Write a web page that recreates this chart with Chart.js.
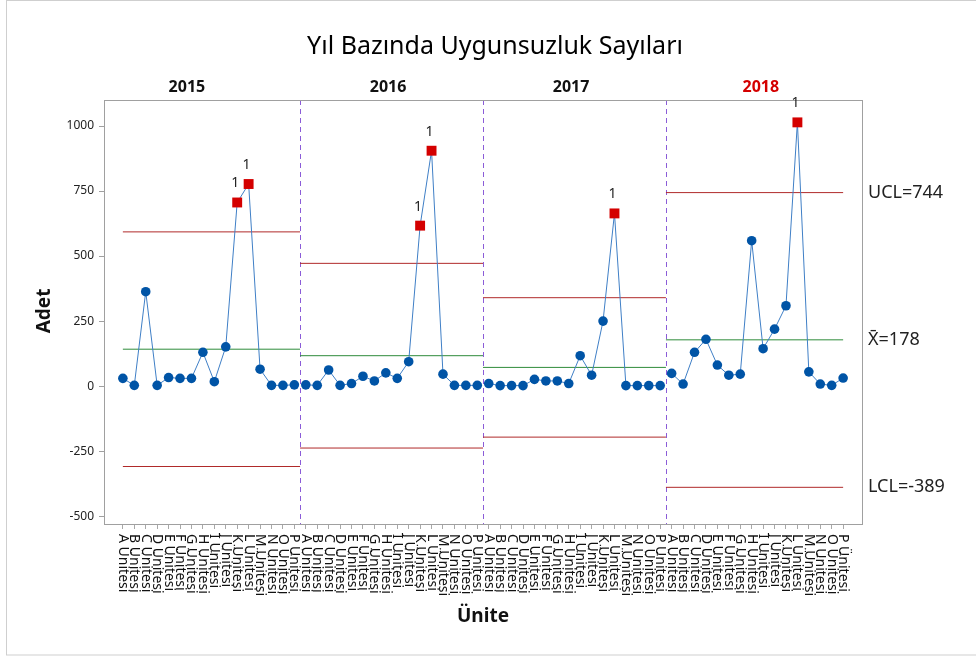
<!DOCTYPE html>
<html>
<head>
<meta charset="utf-8">
<script src="https://cdn.jsdelivr.net/npm/chart.js@4"></script>
<style>
  body { margin: 0; background: #fff; }
  canvas { display: block; }
</style>
</head>
<body>
<canvas id="chart" width="976" height="657"></canvas>
<script>
// Data
const unitNames = ["A", "B", "C", "D", "E", "F", "G", "H", "I", "J", "K", "L", "M", "N", "O", "P"].map(u => u + " Ünitesi");
const years = ["2015", "2016", "2017", "2018"];
const values2015 = [30, 3, 363, 3, 33, 30, 30, 130, 17, 151, 706, 777, 65, 3, 3, 5];
const values2016 = [5, 3, 62, 3, 10, 38, 20, 51, 30, 94, 617, 905, 46, 3, 3, 3];
const values2017 = [10, 2, 2, 2, 26, 20, 20, 10, 117, 42, 250, 664, 2, 2, 2, 2];
const values2018 = [49, 8, 130, 180, 81, 42, 46, 559, 144, 219, 309, 1014, 55, 8, 3, 31];
const centerLines = [142, 117, 72, 178];
const uclValues = [593, 472, 340, 744];
const lclValues = [-309, -238, -196, -389];
const yTicks = [-500, -250, 0, 250, 500, 750, 1000];

const stageValues = [values2015, values2016, values2017, values2018];
const nUnits = unitNames.length;
const nTotal = nUnits * years.length;

// where the year headers sit, in point-index units (layout only)
const yearLabelAt = [5.6, 23.2, 39.2, 55.8];

const FONT = "'Noto Sans', 'Open Sans', sans-serif";
Chart.defaults.font.family = FONT;

const datasets = [];

// the point series, one per year
stageValues.forEach((vals, s) => {
  const bad = c => c.raw && c.raw.y > uclValues[s];
  datasets.push({
    data: vals.map((v, i) => ({ x: s * nUnits + i, y: v })),
    borderColor: "#3f7fc6",
    borderWidth: 1,
    pointStyle: c => (bad(c) ? "rect" : "circle"),
    pointRadius: c => (bad(c) ? 7 : 4.8),
    pointBackgroundColor: c => (bad(c) ? "#d40000" : "#0054a6"),
    pointBorderColor: c => (bad(c) ? "#d40000" : "#0054a6"),
    pointBorderWidth: 0,
    tension: 0,
    order: 0
  });
});

// control limits and center lines per stage
stageValues.forEach((vals, s) => {
  const x0 = Math.max(0, s * nUnits - 0.5);
  const x1 = Math.min(nTotal - 1, s * nUnits + nUnits - 0.5);
  [[uclValues[s], "#b02a2a"], [centerLines[s], "#2e8b3a"], [lclValues[s], "#b02a2a"]].forEach(([v, col]) => {
    datasets.push({
      data: [{ x: x0, y: v }, { x: x1, y: v }],
      borderColor: col,
      borderWidth: 1,
      pointRadius: 0,
      order: 1
    });
  });
});

const decor = {
  id: "decor",
  beforeDraw(chart) {
    const ctx = chart.ctx;
    ctx.save();
    ctx.strokeStyle = "#cfcfcf";
    ctx.lineWidth = 1;
    ctx.strokeRect(6.5, 0.5, 1000, 654.5);
    ctx.restore();
  },
  beforeDatasetsDraw(chart) {
    const { ctx, chartArea: a, scales: { x } } = chart;
    ctx.save();
    ctx.strokeStyle = "#8b5cd8";
    ctx.lineWidth = 1;
    ctx.setLineDash([5, 4]);
    for (let s = 1; s < years.length; s++) {
      const px = Math.round(x.getPixelForValue(s * nUnits - 0.5)) + 0.5;
      ctx.beginPath();
      ctx.moveTo(px, a.top);
      ctx.lineTo(px, a.bottom);
      ctx.stroke();
    }
    ctx.restore();
  },
  afterDraw(chart) {
    const { ctx, chartArea: a, scales: { x, y } } = chart;
    ctx.save();

    // plot frame
    ctx.strokeStyle = "#a0a0a0";
    ctx.lineWidth = 1;
    ctx.strokeRect(a.left + 0.5, a.top + 0.5, a.right - a.left, a.bottom - a.top);

    // title
    ctx.fillStyle = "#000";
    ctx.textAlign = "center";
    ctx.textBaseline = "alphabetic";
    ctx.font = "25px " + FONT;
    ctx.fillText("Yıl Bazında Uygunsuzluk Sayıları", 495, 54);

    // stage labels
    ctx.font = "bold 16px " + FONT;
    ctx.textBaseline = "middle";
    years.forEach((yr, s) => {
      ctx.fillStyle = s === years.length - 1 ? "#d40000" : "#111";
      ctx.fillText(yr, x.getPixelForValue(yearLabelAt[s]), 87);
    });

    // "1" markers over out of control points
    ctx.fillStyle = "#222";
    ctx.font = "14px " + FONT;
    stageValues.forEach((vals, s) => {
      vals.forEach((v, i) => {
        if (v > uclValues[s]) {
          ctx.fillText("1", x.getPixelForValue(s * nUnits + i) - 2, y.getPixelForValue(v) - 19);
        }
      });
    });

    // limit labels on the right (last stage)
    const last = years.length - 1;
    ctx.fillStyle = "#222";
    ctx.textAlign = "left";
    ctx.font = "18px " + FONT;
    ctx.fillText("UCL=" + uclValues[last], a.right + 6, y.getPixelForValue(uclValues[last]));
    ctx.fillText("X\u0304=" + centerLines[last], a.right + 6, y.getPixelForValue(centerLines[last]));
    ctx.fillText("LCL=" + lclValues[last], a.right + 6, y.getPixelForValue(lclValues[last]));

    // rotated unit labels (reading downward)
    ctx.font = "14px " + FONT;
    ctx.fillStyle = "#111";
    ctx.textBaseline = "middle";
    for (let k = 0; k < nTotal; k++) {
      ctx.save();
      ctx.translate(x.getPixelForValue(k), a.bottom + 10);
      ctx.rotate(Math.PI / 2);
      ctx.fillText(unitNames[k % nUnits], 0, 0);
      ctx.restore();
    }

    // axis titles
    ctx.font = "bold 19px " + FONT;
    ctx.textAlign = "center";
    ctx.fillStyle = "#111";
    ctx.fillText("Ünite", 483, 617);
    ctx.save();
    ctx.translate(45, 311);
    ctx.rotate(-Math.PI / 2);
    ctx.fillText("Adet", 0, 0);
    ctx.restore();

    ctx.restore();
  }
};

new Chart(document.getElementById("chart"), {
  type: "line",
  data: { datasets },
  options: {
    responsive: false,
    animation: false,
    layout: { padding: { left: 0, top: 100, right: 114, bottom: 0 } },
    plugins: { legend: { display: false }, tooltip: { enabled: false } },
    scales: {
      x: {
        type: "linear",
        min: -1.65,
        max: nTotal - 1 + 1.65,
        afterBuildTicks: s => { s.ticks = Array.from({ length: nTotal }, (_, i) => ({ value: i })); },
        afterFit: s => { s.height = 133; },
        ticks: { display: false },
        grid: { drawOnChartArea: false, drawTicks: true, tickLength: 5, color: "#a8a8a8" },
        border: { color: "#a0a0a0" }
      },
      y: {
        min: -530,
        max: 1100,
        afterBuildTicks: s => { s.ticks = yTicks.map(v => ({ value: v })); },
        afterFit: s => { s.width = 104; },
        ticks: { color: "#222", font: { size: 12 }, padding: 5, callback: v => String(v) },
        grid: { drawOnChartArea: false, drawTicks: true, tickLength: 5, color: "#a0a0a0" },
        border: { color: "#a0a0a0" }
      }
    }
  },
  plugins: [decor]
});
</script>
</body>
</html>
